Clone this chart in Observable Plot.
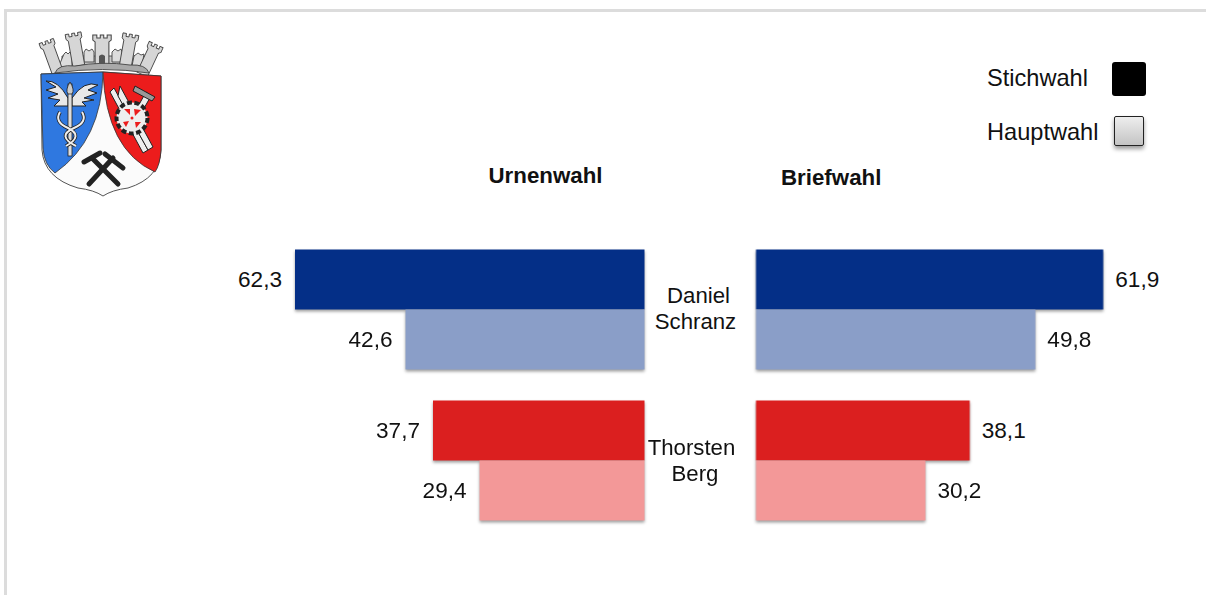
<!DOCTYPE html>
<html lang="de">
<head>
<meta charset="utf-8">
<script src="https://cdn.jsdelivr.net/npm/d3@7"></script>
<script src="https://cdn.jsdelivr.net/npm/@observablehq/plot@0.6"></script>
<style>
html,body{margin:0;padding:0;background:#fff;overflow:hidden}
#page{position:relative;width:1206px;height:595px;font-family:"Liberation Sans",Arial,sans-serif;color:#111}
#frame{position:absolute;left:4px;top:9px;right:-10px;bottom:-10px;border-left:3px solid #dcdcdc;border-top:3px solid #dcdcdc}
#chart{position:absolute;left:0;top:0}
#chart g[aria-label="bar"]{filter:drop-shadow(0 2px 1.5px rgba(0,0,0,.38))}
.t{position:absolute;white-space:nowrap;line-height:1;transform:translateY(-50%)}
.h{font-weight:bold;font-size:22.3px}
.l{font-size:23.6px}
.sw{position:absolute;box-sizing:border-box}
#arms{position:absolute;left:0;top:0}
</style>
</head>
<body>
<div id="page">
<div id="frame"></div>
<svg id="arms" width="220" height="210" viewBox="0 0 220 210">
  <defs>
    <path id="tower" d="M-8 -12 L-8 -17 L-4.500 -17 L-4.500 -14 L-1.500 -14 L-1.500 -17 L1.500 -17 L1.500 -14 L4.500 -14 L4.500 -17 L8 -17 L8 -12 L6 -10 L6 16 L-6 16 L-6 -10Z"/>
  </defs>
  <!-- crown -->
  <g fill="#d6d6d6" stroke="#444" stroke-width="0.9">
    <path d="M62 56 L146 56 L146 68 L62 68Z" fill="#c8c8c8"/>
    <path d="M68 52 L70 50 L72 52 L74 50 L76 52 L76 66 L62 66Z" fill="#dcdcdc" transform="translate(-4 2)"/>
    <path d="M84 52 L86 49 L89 51 L92 49 L94 52 L94 62 L84 62Z" fill="#dcdcdc"/>
    <path d="M112 52 L115 49 L118 51 L121 49 L122 52 L122 62 L112 62Z" fill="#dcdcdc"/>
    <path d="M134 56 L138 53 L141 55 L144 54 L142 66 L132 66Z" fill="#dcdcdc"/>
    <use href="#tower" transform="translate(52 57) rotate(-20) scale(.95 1)"/>
    <use href="#tower" transform="translate(76 50) rotate(-10)"/>
    <use href="#tower" transform="translate(102 52) scale(1.15 1)"/>
    <use href="#tower" transform="translate(128 51) rotate(10)"/>
    <use href="#tower" transform="translate(149 60) rotate(25) scale(.95 1)"/>
    <path d="M55 73 Q58 64 75 66 Q103 61 130 65 Q146 64 149 73 Q103 66 55 73Z" fill="#a9a9a9"/>
    <path d="M99 64 V56 Q102 53 105 56 V64Z" fill="#555" stroke="none"/>
  </g>
  <!-- shield -->
  <path d="M41 74 L103 72 L161 76 L161 150 Q160 178 128 188 Q112 190 103 196 Q94 190 78 188 Q44 178 42 150Z" fill="#fbfbfb" stroke="#555" stroke-width="1"/>
  <path d="M41 74 L103 72 Q102 140 55 173 Q44 165 43 148Z" fill="#2f78e0" stroke="#333" stroke-width="0.8"/>
  <path d="M103 72 L161 76 L161 150 Q160 165 155 172 Q106 150 103 72Z" fill="#ec1c1c" stroke="#333" stroke-width="0.8"/>
  <!-- winged staff -->
  <g stroke="#222" fill="#e8e8e8" stroke-width="1">
    <path d="M68 98 Q58 80 46 81 L56 87 L46 90 L58 94 L48 98 L60 100 L54 106 L68 106Z"/>
    <path d="M72 98 Q84 80 98 85 L88 90 L97 93 L84 98 L94 100 L82 102 L86 106 L72 106Z"/>
  </g>
  <rect x="68" y="84" width="4" height="72" fill="#ddd" stroke="#222" stroke-width="0.8"/>
  <path d="M70 82 Q65 90 68 94 H72 Q75 90 70 82Z" fill="#ccc" stroke="#222" stroke-width="0.8"/>
  <path d="M60 112 Q54 122 68 128 Q84 136 66 146 M82 112 Q88 122 74 128 Q56 136 76 146" fill="none" stroke="#222" stroke-width="3.600"/>
  <path d="M60 112 Q54 122 68 128 Q84 136 66 146 M82 112 Q88 122 74 128 Q56 136 76 146" fill="none" stroke="#eee" stroke-width="2"/>
  <!-- red charge -->
  <g stroke="#222" stroke-width="1" fill="#eee">
    <path d="M114 88 L148 150 L143 153 L110 92Z"/>
    <path d="M120 86 L153 147 L148 150 L118 96Z"/>
    <path d="M146 92 L126 128 L131 131 L151 96Z"/>
    <path d="M135 86 L155 97 L152 101 L133 91Z" fill="#999"/>
    <circle cx="132" cy="118" r="15.500" stroke-dasharray="5 2.500" stroke-width="4" fill="#eee"/>
    <circle cx="132" cy="118" r="13" stroke="none"/>
    <g fill="#ec1c1c" stroke="none">
      <path d="M124 109 L130 109 L130 115 Z"/><path d="M134 109 L141 110 L135 116Z"/>
      <path d="M123 122 L129 121 L126 127Z"/><path d="M135 122 L141 122 L136 128Z"/>
      <circle cx="132" cy="118" r="1.500"/>
    </g>
  </g>
  <!-- crossed hammers -->
  <g stroke="#222" stroke-width="5" stroke-linecap="round">
    <path d="M89 184 L113 158"/><path d="M118 184 L92 158"/>
    <path d="M84 162 L100 153"/><path d="M105 154 L123 168"/>
  </g>
</svg>
<div id="chart"></div>
<div class="t h" style="left:488.500px;top:176px">Urnenwahl</div>
<div class="t h" style="left:781px;top:178px">Briefwahl</div>
<div class="t l" style="left:987px;top:79px">Stichwahl</div>
<div class="t l" style="left:987px;top:133px">Hauptwahl</div>
<div class="sw" style="left:1112px;top:62px;width:34px;height:34px;background:#000;border-radius:3px"></div>
<div class="sw" style="left:1114px;top:116px;width:30px;height:30px;border:1.5px solid #222;border-radius:2px;background:linear-gradient(#eeeeee,#c4c4c4);box-shadow:0 3px 4px rgba(0,0,0,.4)"></div>
</div>
<script>
const candidates = ["Daniel Schranz", "Thorsten Berg"];
const rounds = ["Stichwahl", "Hauptwahl"];
const urnenwahl = [62.3, 42.6, 37.7, 29.4];
const briefwahl = [61.9, 49.8, 38.1, 30.2];
const barColors = ["#042f87", "#8a9ec8", "#db1f1f", "#f39898"];

const rows = urnenwahl.map((u, i) => ({
  candidate: candidates[Math.floor(i / 2)],
  round: rounds[i % 2],
  colour: barColors[i],
  u,
  b: briefwahl[i]
}));
const fmt = v => v.toFixed(1).replace(".", ",");
const gapHalf = 55.5;
const nameMark = (name, line, dx, dy) => Plot.text([name], {
  x: 0, fy: d => d, text: d => d.split(" ")[line],
  dx, dy, fontSize: 22.2, fill: "#111"
});

const chart = Plot.plot({
  width: 1206,
  height: 595,
  marginLeft: 0, marginRight: 0, marginTop: 248.5, marginBottom: 74.5,
  style: {fontFamily: '"Liberation Sans",Arial,sans-serif', background: "transparent", overflow: "visible"},
  x: {domain: [-124.87, 90.11], range: [0, 1206], axis: null},
  y: {domain: rounds, padding: 0, axis: null},
  fy: {domain: candidates, paddingInner: 0.199, paddingOuter: 0, axis: null, label: null},
  color: {type: "identity"},
  marks: [
    Plot.barX(rows, {x1: 0, x2: d => -d.u, y: "round", fy: "candidate", fill: "colour", dx: -gapHalf - 0.5}),
    Plot.barX(rows, {x1: 0, x2: "b", y: "round", fy: "candidate", fill: "colour", dx: gapHalf}),
    Plot.text(rows, {x: d => -d.u, y: "round", fy: "candidate", text: d => fmt(d.u), textAnchor: "end", dx: -gapHalf - 14, dy: -0.5, fontSize: 22.6, fill: "#111"}),
    Plot.text(rows, {x: "b", y: "round", fy: "candidate", text: d => fmt(d.b), textAnchor: "start", dx: gapHalf + 11.5, dy: -0.5, fontSize: 22.6, fill: "#111"}),
    nameMark(candidates[0], 0, -2.5, -14.5),
    nameMark(candidates[0], 1, -5.5, 12),
    nameMark(candidates[1], 0, -9.5, -13.5),
    nameMark(candidates[1], 1, -6, 12.5)
  ]
});
document.getElementById("chart").appendChild(chart);
</script>
</body>
</html>
